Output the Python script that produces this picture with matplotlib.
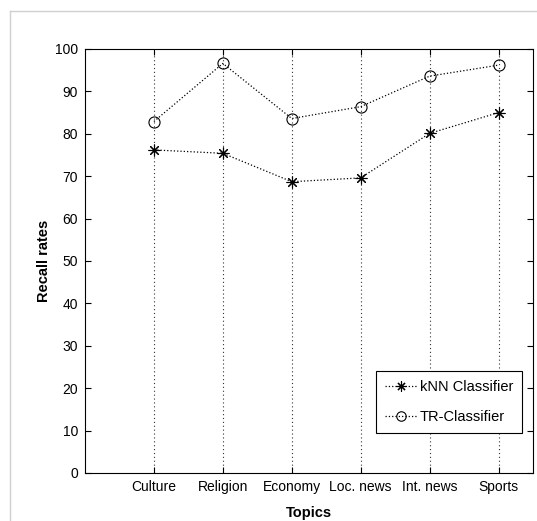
import matplotlib
matplotlib.use("Agg")
import matplotlib.pyplot as plt
from matplotlib.lines import Line2D

topics = ["Culture", "Religion", "Economy", "Loc. news", "Int. news", "Sports"]
knn = [76.2, 75.4, 68.7, 69.6, 80.1, 85.0]
tr = [82.9, 96.6, 83.6, 86.4, 93.6, 96.2]
yticks = list(range(0, 101, 10))

plt.rcParams['font.family'] = ['Liberation Sans', 'DejaVu Sans']

fig = plt.figure(figsize=(5.37, 5.21), dpi=100)
W, H = 537, 521
ax = fig.add_axes([85 / W, 1 - 473 / H, (533 - 85) / W, (473 - 49) / H])

# light frame lines of the figure
fig.add_artist(Line2D([10 / W, 1], [1 - 11 / H, 1 - 11 / H], color='#d0d0d0', lw=1))
fig.add_artist(Line2D([10 / W, 10 / W], [0, 1 - 11 / H], color='#d0d0d0', lw=1))

x = list(range(1, len(topics) + 1))
ax.plot(x, knn, linestyle=':', color='black', lw=0.9, marker=(8, 2, 0), markersize=8.5,
        markeredgecolor='black', markeredgewidth=0.8, label='kNN Classifier')
ax.plot(x, tr, linestyle=':', color='black', lw=0.9, marker='o', markersize=8,
        markerfacecolor='none', markeredgecolor='black', markeredgewidth=0.8,
        label='TR-Classifier')

ax.set_xlim(0, 6.5)
ax.set_ylim(0, 100)
ax.set_xticks(x)
ax.set_xticklabels(topics)
ax.set_yticks(yticks)
ax.tick_params(direction='in', top=True, right=True, labelsize=10, length=4,
               width=0.8, pad=5)
ax.xaxis.grid(True, linestyle=(0, (1, 2.5)), color='#333333', lw=0.8)
ax.yaxis.grid(False)
for s in ax.spines.values():
    s.set_linewidth(0.8)

ax.set_xlabel('Topics', fontsize=10.5, fontweight='bold', labelpad=9)
ax.set_ylabel('Recall rates', fontsize=10.5, fontweight='bold', labelpad=3)

leg = ax.legend(loc='lower right', bbox_to_anchor=(522 / W, 1 - 433 / H),
                bbox_transform=fig.transFigure, borderaxespad=0,
                fontsize=10.5, fancybox=False, edgecolor='black', framealpha=1,
                handlelength=2.2, handletextpad=0.2, borderpad=0.6,
                labelspacing=1.1, markerscale=0.85)
leg.get_frame().set_linewidth(0.8)

fig.savefig('out.png', dpi=100)
